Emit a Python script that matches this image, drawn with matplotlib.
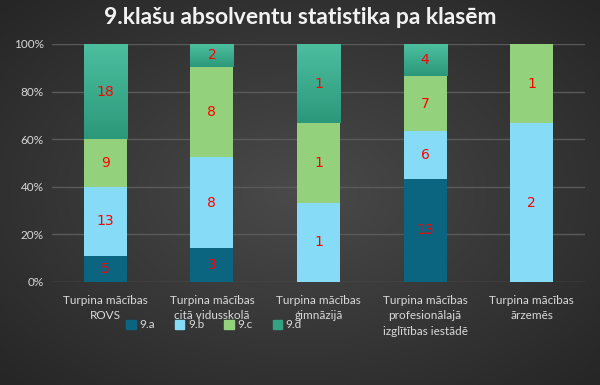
import numpy as np
import matplotlib
matplotlib.use("Agg")
import matplotlib.pyplot as plt
from matplotlib.patches import Patch
from matplotlib.colors import LinearSegmentedColormap

categories = ["Turpina mācības\nROVS", "Turpina mācības\ncitā vidusskolā",
              "Turpina mācības\nģimnāzijā", "Turpina mācības\nprofesionālajā\nizglītības iestādē",
              "Turpina mācības\nārzemēs"]
series = ["9.a", "9.b", "9.c", "9.d"]
a = [5, 3, 0, 13, 0]
b = [13, 8, 1, 6, 2]
c = [9, 8, 1, 7, 1]
d = [18, 2, 1, 4, 0]
colors = ["#0b6480", "#86dcf7", "#93d17c", "#33a283"]

plt.rcParams['font.family'] = ['Lato', 'DejaVu Sans']

fig = plt.figure(figsize=(6, 3.85), dpi=100)

# background with radial gradient
bg = fig.add_axes([0, 0, 1, 1], zorder=-10)
yy, xx = np.mgrid[-1:1:200j, -1:1:300j]
r = np.sqrt(xx**2 + yy**2)
bg.imshow(r, cmap=LinearSegmentedColormap.from_list("bg", ["#4a4a4a", "#262626"]),
          extent=[0, 1, 0, 1], aspect="auto", vmin=0, vmax=1.4)
bg.axis("off")

ax = fig.add_axes([52/600, 103/385, 533/600, 238/385])
ax.patch.set_alpha(0)

data = np.array([a, b, c, d], dtype=float)
tot = data.sum(axis=0)
pct = data / tot * 100
x = np.arange(len(categories))
bottom = np.zeros(len(categories))
green_grad = LinearSegmentedColormap.from_list("g", ["#2c987a", "#4cbf9f"])
for i, s in enumerate(series):
    bars = ax.bar(x, pct[i], 0.405, bottom=bottom, color=colors[i], zorder=3, label=s)
    if s == "9.d":
        # 9.d bars have a soft vertical gradient
        for bar in bars:
            if bar.get_height() <= 0:
                continue
            x0, y0 = bar.get_x(), bar.get_y()
            w, h = bar.get_width(), bar.get_height()
            grad = np.linspace(0, 1, 50).reshape(-1, 1)
            im = ax.imshow(grad, cmap=green_grad, origin="lower", aspect="auto",
                           extent=[x0, x0 + w, y0, y0 + h], zorder=3.5)
            im.set_clip_path(bar)
    for j in range(len(categories)):
        if data[i, j] > 0:
            ax.text(x[j], bottom[j] + pct[i, j] / 2, "%d" % data[i, j], color="red",
                    ha="center", va="center", fontsize=10, family="DejaVu Sans", zorder=4)
    bottom += pct[i]

ax.set_xlim(-0.5, len(categories) - 0.5)
ax.set_ylim(0, 100)
ax.set_yticks([0, 20, 40, 60, 80, 100])
ax.set_yticklabels(["0%", "20%", "40%", "60%", "80%", "100%"])
ax.yaxis.grid(True, color="#5a5a5a", lw=1, zorder=0)
ax.tick_params(axis="y", length=0, colors="#d9d9d9", labelsize=8.5, pad=6)
ax.set_xticks(x)
ax.set_xticklabels(categories, fontsize=8.5, color="#d9d9d9", linespacing=1.55)
ax.tick_params(axis="x", length=0, pad=9)
for sp in ax.spines.values():
    sp.set_visible(False)

fig.text(0.5, 0.955, "9.klašu absolventu statistika pa klasēm", ha="center", va="center",
         fontsize=16.5, fontweight="bold", color="#f2f2f2")

handles = [Patch(color=colors[i], label=series[i]) for i in range(4)]
fig.legend(handles=handles, loc="center", bbox_to_anchor=(214/600, 1 - 325/385), ncol=4,
           frameon=False, fontsize=8.5, labelcolor="#d9d9d9", handlelength=0.8, handleheight=0.8,
           handletextpad=0.3, columnspacing=1.7)

fig.savefig("out.png", dpi=100)
